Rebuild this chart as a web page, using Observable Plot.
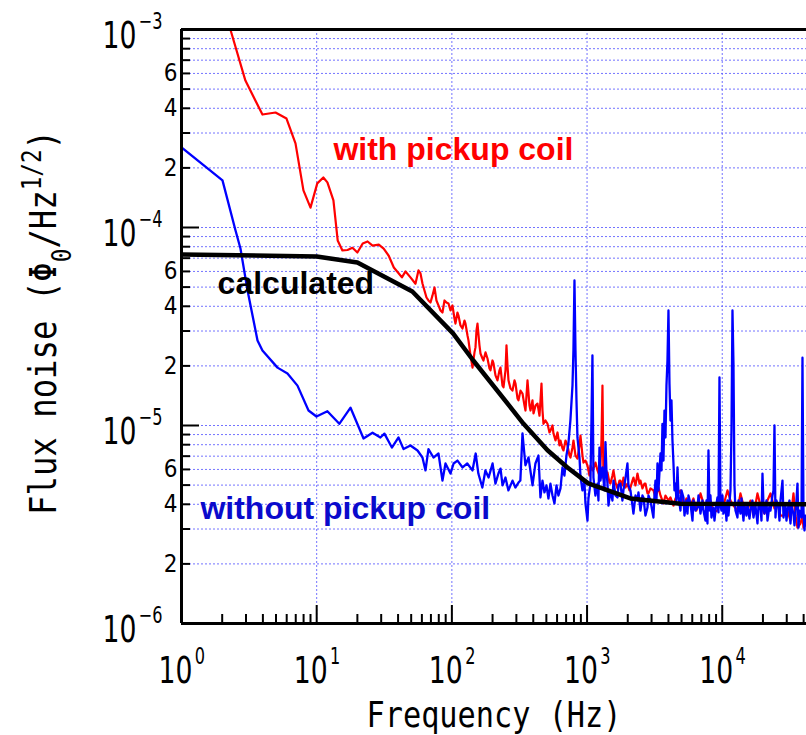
<!DOCTYPE html>
<html>
<head>
<meta charset="utf-8">
<script src="https://cdn.jsdelivr.net/npm/d3@7"></script>
<script src="https://cdn.jsdelivr.net/npm/@observablehq/plot@0.6"></script>
<style>
  body { margin: 0; background: #fff; }
</style>
</head>
<body>
<div id="chart"></div>
<script>
// Flux-noise spectra of the SQUID. Frequencies in Hz, noise in µΦ0/Hz^1/2.
const MICRO = 1e-6;

// measured with the pickup coil connected
const withCoilFreq = [2.3, 2.97, 3.97, 4.96, 5.98, 6.97, 7.98, 9.0, 10.1, 11.2, 12.0, 13.3, 14.3, 15.5, 16.9, 18.4, 20.0, 21.9, 23.8, 25.9, 28.8, 31.3, 34.1, 37.2, 40.5, 42.7, 45.4, 49.4, 53.8, 56.6,
  58.6, 60.6, 62.7, 64.9, 67.1, 69.5, 71.9, 74.4, 76.9, 79.6, 82.4, 85.2, 88.2, 91.2, 94.4, 97.7, 101.0, 104.5, 106.3, 110.0, 111.9, 115.8, 119.8, 124.0, 126.1, 130.5, 132.7, 137.3, 142.1, 147.0, 149.5, 152.1, 154.7, 160.0, 162.8, 168.4, 171.3, 177.3, 183.4, 189.8, 193.0, 199.7, 203.2, 210.2, 217.5, 225.0, 228.9, 236.8, 240.9, 249.3, 253.5, 257.9, 262.3, 271.4, 280.8, 290.5, 295.5, 305.8, 311.0, 321.8, 333.0, 344.5, 350.4, 356.5, 362.6, 375.1, 381.6, 394.8, 401.6, 415.5, 429.9, 444.8, 452.4, 460.2, 468.1, 476.1, 492.6, 509.7, 527.3, 536.4, 555.0, 564.5, 584.1, 604.3, 625.2, 636.0, 658.0, 669.3, 692.5, 716.5, 741.3, 754.0, 780.1, 793.5, 821.0, 849.4, 878.8, 893.9, 924.9, 940.8, 973.4,
  1007, 1042, 1060, 1097, 1115, 1154, 1194, 1235, 1256, 1278, 1300, 1322, 1368, 1416, 1465, 1490, 1541, 1568, 1622, 1679, 1737, 1766, 1827, 1858, 1923, 1990, 2059, 2094, 2167, 2204, 2281, 2360, 2442, 2483, 2569, 2658, 2704, 2798, 2846, 2945, 3099, 3206, 3375, 3492, 3675, 3802, 4001, 4140, 4357, 4508, 4744, 4909, 5167, 5437, 5820, 6125, 6446, 6901, 7262, 7775, 8182, 8611, 9219, 9702,
  10211, 10931, 11504, 12106, 12960, 13640, 14355, 15367, 16173, 17021, 18221, 19177, 20529, 21604, 22738, 24342, 25619, 26961, 28374, 30374, 31968, 33643, 34812, 36016, 37905, 39218, 39891, 41984];
const withCoilNoise = [1000, 552, 372, 381, 355, 266, 154, 126, 167, 179, 169, 137, 86, 76.6, 77, 79, 74.8, 83, 85, 81, 82, 78.3, 72, 62.8, 58.6, 56, 60, 56, 52, 60.7,
  58.6, 52.1, 48.1, 44.3, 42.8, 41.8, 45.4, 49.8, 42.8, 40.4, 38.1, 37.2, 42.8, 41.8, 41.3, 38.1, 40.4, 34.7, 32.7, 37.2, 35.9, 32.0, 30.9, 33.9, 32.7, 28.5, 26.9, 22.6, 19.6, 23.4, 24.8, 30.2, 32.7, 25.4, 23.1, 21.8, 21.3, 23.4, 21.8, 19.4, 19.0, 21.3, 20.6, 17.9, 16.9, 19.0, 19.6, 15.9, 15.6, 19.0, 25.4, 20.1, 16.9, 15.4, 15.0, 16.9, 16.3, 13.7, 13.4, 15.0, 14.5, 12.6, 11.9, 14.2, 16.9, 12.6, 11.9, 13.4, 11.5, 12.6, 12.9, 11.2, 13.4, 16.3, 11.9, 10.2, 10.6, 10.2, 9.22, 9.43, 10.0, 9.11, 8.40, 9.22, 7.93, 8.40, 7.65, 7.48, 8.40, 7.93, 7.05, 6.89, 7.74, 8.40, 7.05, 6.81, 7.93, 8.90, 7.05, 6.50, 6.65,
  6.28, 5.59, 6.28, 5.93, 6.06, 6.50, 5.93, 5.59, 6.28, 8.40, 15.9, 5.40, 5.59, 5.79, 5.15, 5.09, 5.59, 5.93, 5.15, 4.81, 5.27, 5.27, 4.98, 5.46, 4.86, 5.09, 4.70, 4.86, 5.27, 5.46, 4.98, 5.72, 5.09, 5.27, 4.81, 5.09, 5.09, 4.54, 4.54, 4.81, 4.70, 4.33, 4.86, 4.43, 4.04, 4.43, 4.18, 4.33, 3.94, 4.28, 4.54, 4.70, 3.94, 4.28, 3.94, 4.28, 3.72, 4.54, 4.04, 3.94, 4.18, 3.64, 3.72, 4.28,
  3.94, 4.70, 4.18, 3.94, 3.72, 4.54, 3.94, 3.72, 4.18, 3.51, 4.54, 3.94, 3.59, 4.18, 4.54, 3.81, 4.04, 3.51, 3.51, 3.72, 3.31, 4.54, 3.51, 3.05, 3.20, 3.51, 3.05, 3.31];

// measured without the pickup coil
const withoutCoilFreq = [1, 2.01, 2.51, 2.73, 3.08, 3.65, 3.97, 5.13, 6.08, 7.21, 8.7, 9.96, 12.0, 14.7, 17.8, 22.2, 25.9, 29.6, 31.7, 36, 40.3, 43.9, 49.4, 55.7, 60.6, 63.8, 67.1, 73.1, 79.6, 85.2, 89.7, 97.7, 103, 110, 120, 130, 142, 150, 157, 168, 177, 187, 200, 210, 221, 229, 237, 249, 262, 281, 295, 311, 321, 333, 350, 369, 395, 415, 437,
  452, 468, 484, 501, 518, 536, 555, 574, 594, 614, 636, 658, 680, 704, 728, 753, 780, 793, 807, 821, 835, 849, 879, 893, 924, 956, 973,
  1007, 1024, 1059, 1078, 1096, 1115, 1153, 1194, 1214, 1235, 1256, 1300, 1345, 1368, 1391, 1416, 1440, 1489, 1541, 1568, 1622, 1679, 1707, 1766, 1827, 1858, 1923, 1990, 2024, 2094, 2167, 2203, 2281, 2360, 2400, 2483, 2569, 2612, 2704, 2798, 2846, 2945, 3047, 3097, 3152, 3206, 3262, 3318, 3375, 3492, 3552, 3613, 3675, 3738, 3802, 3867, 3934, 4001, 4070, 4140, 4211, 4283, 4357, 4432, 4508, 4585, 4665, 4744, 4909, 4993, 5167, 5255, 5437, 5530, 5625, 5820, 6022, 6125, 6337, 6557, 6670, 6901, 7140, 7262, 7514, 7643, 7775, 7908, 8044, 8182, 8323, 8611, 8759, 8910, 9219, 9377, 9538, 9702, 9869,
  10038, 10211, 10565, 10746, 10931, 11118, 11504, 11701, 11902, 12106, 12315, 12526, 12960, 13183, 13640, 13874, 14355, 14602, 15108, 15367, 15900, 16173, 16734, 17021, 17612, 18221, 18534, 19177, 19506, 19841, 20182, 20529, 21240, 21604, 22354, 22738, 23526, 23930, 24342, 24760, 25185, 26058, 26506, 26961, 27895, 28374, 29357, 29862, 30374, 31428, 31968, 32517, 33643, 34222, 35408, 36016, 36635, 37264, 38555, 39218, 39891, 40577, 41274, 41984];
const withoutCoilNoise = [254, 173, 96.6, 78.3, 48.1, 26.9, 23.9, 19.6, 18.3, 15.9, 11.9, 11.1, 11.8, 10.2, 12.3, 8.6, 9.2, 8.7, 9.1, 7.74, 8.7, 7.6, 7.93, 7.48, 6.89, 5.93, 7.6, 6.89, 7.22, 5.27, 6.43, 5.72, 6.43, 6.65, 6.14, 6.43, 5.93, 7.22, 5.72, 4.86, 5.93, 5.46, 6.43, 5.09, 5.72, 6.06, 4.98, 5.46, 4.7, 5.27, 4.86, 5.15, 5.27, 9.11, 6.3, 6.89, 4.98, 6.43, 7.05,
  4.33, 5.27, 4.59, 4.98, 4.28, 5.09, 4.43, 4.04, 4.98, 4.43, 4.81, 6.14, 5.59, 7.05, 8.11, 10.6, 15.9, 23.9, 54, 23.9, 13.4, 8.7, 6.89, 5.59, 4.70, 5.27, 4.04,
  3.31, 4.28, 5.09, 10.6, 22.6, 5.46, 4.43, 5.09, 4.18, 7.74, 5.27, 6.14, 4.70, 8.25, 5.93, 5.09, 3.94, 4.70, 4.18, 5.27, 4.43, 4.33, 4.98, 5.09, 4.18, 4.70, 5.40, 6.43, 4.98, 4.70, 3.94, 3.59, 4.43, 4.18, 4.59, 3.72, 4.43, 4.33, 3.51, 3.85, 4.43, 4.18, 3.64, 3.43, 4.43, 5.27, 4.18, 6.43, 4.70, 7.22, 5.93, 10.2, 6.65, 11.9, 8.7, 15.9, 21.3, 38.1, 16.3, 10.6, 13.4, 8.4, 6.43, 4.70, 5.09, 4.18, 6.14, 4.43, 3.72, 4.70, 4.33, 3.51, 4.18, 3.59, 4.43, 4.04, 3.31, 4.18, 3.72, 3.85, 4.43, 3.59, 4.18, 3.72, 3.31, 4.18, 3.20, 7.48, 3.72, 4.43, 3.43, 3.85, 3.31, 3.72, 4.33, 3.64, 17.5, 3.94, 3.72,
  4.43, 3.59, 3.94, 3.31, 4.18, 3.51, 4.70, 9.43, 38.1, 20.6, 4.98, 3.72, 3.43, 4.18, 3.59, 4.28, 3.31, 3.94, 3.51, 4.04, 3.39, 3.72, 4.18, 3.43, 3.94, 3.20, 3.94, 3.85, 3.31, 5.72, 3.94, 3.59, 4.18, 3.31, 3.94, 3.72, 4.43, 4.70, 10.0, 3.43, 4.18, 3.85, 3.31, 4.18, 5.27, 3.43, 3.94, 3.31, 3.72, 4.18, 3.20, 3.94, 3.59, 3.13, 4.18, 5.09, 3.05, 3.72, 3.43, 22.0, 3.72, 2.95, 3.51, 3.13];

// calculated noise
const calcFreq = [1, 10, 20, 51, 102, 144, 339, 510, 716, 1020, 2090, 4900, 42000];
const calcNoise = [73.1, 71.4, 66.6, 47.5, 29.2, 21.3, 10.2, 7.5, 6.14, 5.1, 4.28, 4.03, 4.0];

// axis extents and ticks
const freqDomain = [1, 42000];
const noiseDomain = [1e-6, 1e-3];
const xDecades = [1, 10, 100, 1000, 10000];
const yDecades = [1e-6, 1e-5, 1e-4, 1e-3];
const minorSteps = [2, 3, 4, 5, 6, 7, 8, 9];
const yMinorLabelSteps = [2, 4, 6];

// curve labels, anchored in data coordinates (Hz, Φ0/Hz^1/2)
const curveLabels = [
  {text: "with pickup coil", f: 13.3, v: 2.18e-4, color: "#ff0000"},
  {text: "calculated", f: 1.85, v: 4.64e-5, color: "#000000"},
  {text: "without pickup coil", f: 1.38, v: 3.39e-6, color: "#0a0acc"}
];

const xTitle = "Frequency (Hz)";
const yTitle = "Flux noise (Φ0/Hz1/2)";

const series = (fs, vs) => fs.map((f, i) => ({f, v: vs[i] * MICRO}));
const withCoil = series(withCoilFreq, withCoilNoise);
const withoutCoil = series(withoutCoilFreq, withoutCoilNoise);
const calculated = series(calcFreq, calcNoise);

const xMinor = xDecades.flatMap(d => minorSteps.map(m => d * m)).filter(f => f <= freqDomain[1]);
const yMinor = yDecades.slice(0, 3).flatMap(d => minorSteps.map(m => d * m));
const yMinorLabeled = yDecades.slice(0, 3).flatMap(d => yMinorLabelSteps.map(m => ({v: d * m, m})));

// power-of-ten labels are written "10^e" and typeset below
const powerLabel = d => "10^" + String(Math.round(Math.log10(d))).replace("-", "\u2212");

const W = 806, H = 735;
const M = {top: 29, right: 0, bottom: 112, left: 181};
const plotW = W - M.left - M.right, plotH = H - M.top - M.bottom;

const numFont = "'DejaVu Sans Condensed', 'DejaVu Sans', sans-serif";
const monoFont = "'DejaVu Sans Mono', monospace";
const gridStyle = {stroke: "#5a5aff", strokeWidth: 1, strokeDasharray: "2,2", strokeOpacity: 0.85};

const chart = Plot.plot({
  width: W,
  height: H,
  marginTop: M.top,
  marginRight: M.right,
  marginBottom: M.bottom,
  marginLeft: M.left,
  style: {background: "#fff", fontFamily: numFont, overflow: "visible"},
  x: {type: "log", domain: freqDomain, axis: null},
  y: {type: "log", domain: noiseDomain, axis: null},
  marks: [
    // dotted grid
    Plot.ruleY([...yMinor, ...yDecades.slice(1, 3)], {y: d => d, ...gridStyle}),
    Plot.ruleX(xDecades.slice(1), {x: d => d, ...gridStyle}),

    // spectra
    Plot.line(withCoil, {x: "f", y: "v", stroke: "#ff0000", strokeWidth: 2.2, clip: true}),
    Plot.line(withoutCoil, {x: "f", y: "v", stroke: "#0000ff", strokeWidth: 2.3, clip: true}),
    Plot.line(calculated, {x: "f", y: "v", stroke: "#000", strokeWidth: 4.5, clip: true}),

    // inward ticks
    Plot.tickY(yMinor, {y: d => d, stroke: "#000", strokeWidth: 2, insetRight: plotW - 9}),
    Plot.tickY(yDecades, {y: d => d, stroke: "#000", strokeWidth: 2, insetRight: plotW - 18}),
    Plot.tickX(xMinor, {x: d => d, stroke: "#000", strokeWidth: 2, insetTop: plotH - 9}),
    Plot.tickX(xDecades, {x: d => d, stroke: "#000", strokeWidth: 2, insetTop: plotH - 18}),

    // frame lines
    Plot.ruleX([freqDomain[0]], {x: d => d, stroke: "#000", strokeWidth: 3}),
    Plot.ruleY([noiseDomain[0]], {y: d => d, stroke: "#000", strokeWidth: 3}),
    Plot.ruleY([noiseDomain[1]], {y: d => d, stroke: "#000", strokeWidth: 3}),

    // y tick labels: powers of ten, and 2, 4, 6 within each decade
    Plot.text(yDecades, {y: d => d, frameAnchor: "left", text: powerLabel, textAnchor: "end", lineAnchor: "bottom", dx: -19, dy: 18, fontSize: 38, fill: "#000"}),
    Plot.text(yMinorLabeled, {y: "v", frameAnchor: "left", text: d => String(d.m), textAnchor: "end", lineAnchor: "middle", dx: -4, fontSize: 24, fill: "#000"}),

    // x tick labels
    Plot.text(xDecades, {x: d => d, frameAnchor: "bottom", text: powerLabel, textAnchor: "start", lineAnchor: "bottom", dx: -23, dy: 59, fontSize: 38, fill: "#000"}),

    // axis titles
    Plot.text([xTitle], {frameAnchor: "bottom", text: d => d, textAnchor: "middle", lineAnchor: "bottom", dy: 103, fontSize: 35, fontFamily: monoFont, fill: "#000"}),
    Plot.text([yTitle], {frameAnchor: "left", text: d => d, rotate: -90, textAnchor: "middle", lineAnchor: "bottom", dx: -126, dy: -4, fontSize: 37, fontFamily: monoFont, fill: "#000"}),

    // curve labels
    Plot.text(curveLabels, {x: "f", y: "v", text: "text", fill: "color", textAnchor: "start", lineAnchor: "bottom", fontSize: 32, fontWeight: "bold", fontFamily: "'Liberation Sans', Arial, sans-serif"})
  ]
});

document.getElementById("chart").append(chart);

// Typeset the powers of ten (narrowed about their anchor), narrow the axis titles,
// and set the Φ0 subscript and the 1/2 exponent
d3.select(chart).selectAll("text").each(function () {
  const t = d3.select(this);
  const s = this.textContent;
  const power = /^10\^(.+)$/.exec(s);
  if (power) {
    t.text(null);
    t.append("tspan").text("10");
    t.append("tspan").attr("dx", 3).attr("font-size", 23).attr("baseline-shift", 19).text(power[1]);
    t.attr("transform", (t.attr("transform") || "") + " scale(0.78,1)");
  } else if (s === xTitle) {
    t.attr("textLength", 255).attr("lengthAdjust", "spacingAndGlyphs");
  } else if (s === yTitle) {
    t.text(null);
    t.append("tspan").text("Flux noise (Φ");
    t.append("tspan").attr("baseline-shift", "sub").attr("font-size", "0.7em").text("0");
    t.append("tspan").text("/Hz");
    t.append("tspan").attr("baseline-shift", "super").attr("font-size", "0.7em").text("1/2");
    t.append("tspan").text(")");
    t.attr("textLength", 385).attr("lengthAdjust", "spacingAndGlyphs");
  }
});
</script>
</body>
</html>
